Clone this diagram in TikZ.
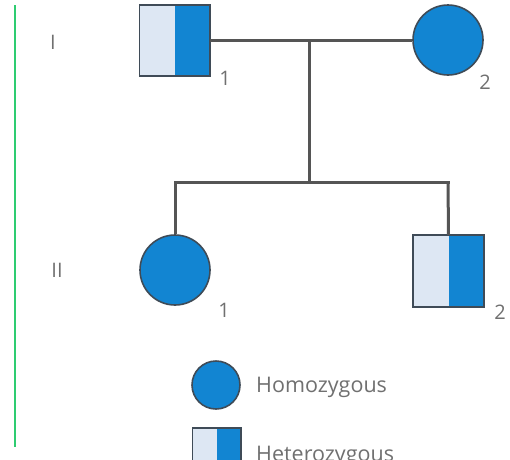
\documentclass[tikz,border=0pt]{standalone}
\usepackage{fontspec}
\setmainfont{Open Sans}
\definecolor{pblue}{HTML}{1285D2}
\definecolor{plight}{HTML}{DDE7F3}
\definecolor{pline}{HTML}{555555}
\definecolor{pedge}{HTML}{3F4B57}
\definecolor{ptext}{HTML}{707070}
\definecolor{pgreen}{HTML}{2ECC71}
\begin{document}
\begin{tikzpicture}[x=1pt,y=-1pt,
  conn/.style={draw=pline,line width=3pt},
  affected/.style={circle,draw=pedge,line width=1.6pt,fill=pblue,minimum size=#1,inner sep=0pt},
  halfleft/.style={rectangle,fill=plight,draw=none,minimum width=35pt,minimum height=#1,inner sep=0pt},
  halfright/.style={rectangle,fill=pblue,draw=none,minimum width=35pt,minimum height=#1,inner sep=0pt},
  lbl/.style={text=ptext,font=\fontsize{20}{22}\selectfont,inner sep=0pt},
  leg/.style={text=ptext,font=\fontsize{21.5}{24}\selectfont,inner sep=0pt,anchor=base west}]
\clip (0,0) rectangle (510,459);
\useasboundingbox (0,0) rectangle (510,459);
\fill[white] (0,0) rectangle (510,459);
\draw[pgreen,line width=2pt] (15,5) -- (15,447);
% generation labels
\node[lbl] (gI) at (53,42) {I};
\node[lbl] (gII) at (57,270) {II};
% I-1 heterozygous male
\node[rectangle,minimum width=70pt,minimum height=71pt,inner sep=0pt] (m1) at (174.5,40.5) {};
\fill[plight] (m1.north west) rectangle (m1.south);
\fill[pblue] (m1.north) rectangle (m1.south east);
\draw[pedge,line width=1.6pt] (m1.north west) rectangle (m1.south east);
\node[lbl] (l11) at (225,78) {1};
% I-2 female
\node[affected=70pt] (f2) at (448,40) {};
\node[lbl] (l12) at (485,82) {2};
% mating line
\coordinate (mid) at (309,40);
\coordinate (sibL) at (175,182);
\coordinate (sibR) at (448,182);
\coordinate (sibM) at (309,182);
\draw[conn] (m1.east |- mid) -- (f2.west);
\draw[conn] (mid) -- (sibM);
\draw[conn,line cap=rect] (sibL) -- (sibR);
% II-1
\node[affected=70pt] (c1) at (175,270) {};
\node[lbl] (l21) at (224,310) {1};
% II-2
\node[rectangle,minimum width=71pt,minimum height=72pt,inner sep=0pt] (c2) at (448.5,271) {};
\fill[plight] (c2.north west) rectangle (c2.south);
\fill[pblue] (c2.north) rectangle (c2.south east);
\draw[pedge,line width=1.6pt] (c2.north west) rectangle (c2.south east);
\node[lbl] (l22) at (500,312) {2};
\draw[conn] (sibL) -- (c1.north);
\draw[conn] (sibR) -- (c2.north);
% legend
\node[affected=48pt] (legc) at (216,385) {};
\node[leg] (legct) at (256,392) {Homozygous};
\node[rectangle,minimum width=48pt,minimum height=48pt,inner sep=0pt] (legs) at (216.5,452) {};
\fill[plight] (legs.north west) rectangle (legs.south);
\fill[pblue] (legs.north) rectangle (legs.south east);
\draw[pedge,line width=1.6pt] (legs.north west) rectangle (legs.south east);
\node[leg] (legst) at (256,461) {Heterozygous};
\end{tikzpicture}
\end{document}
